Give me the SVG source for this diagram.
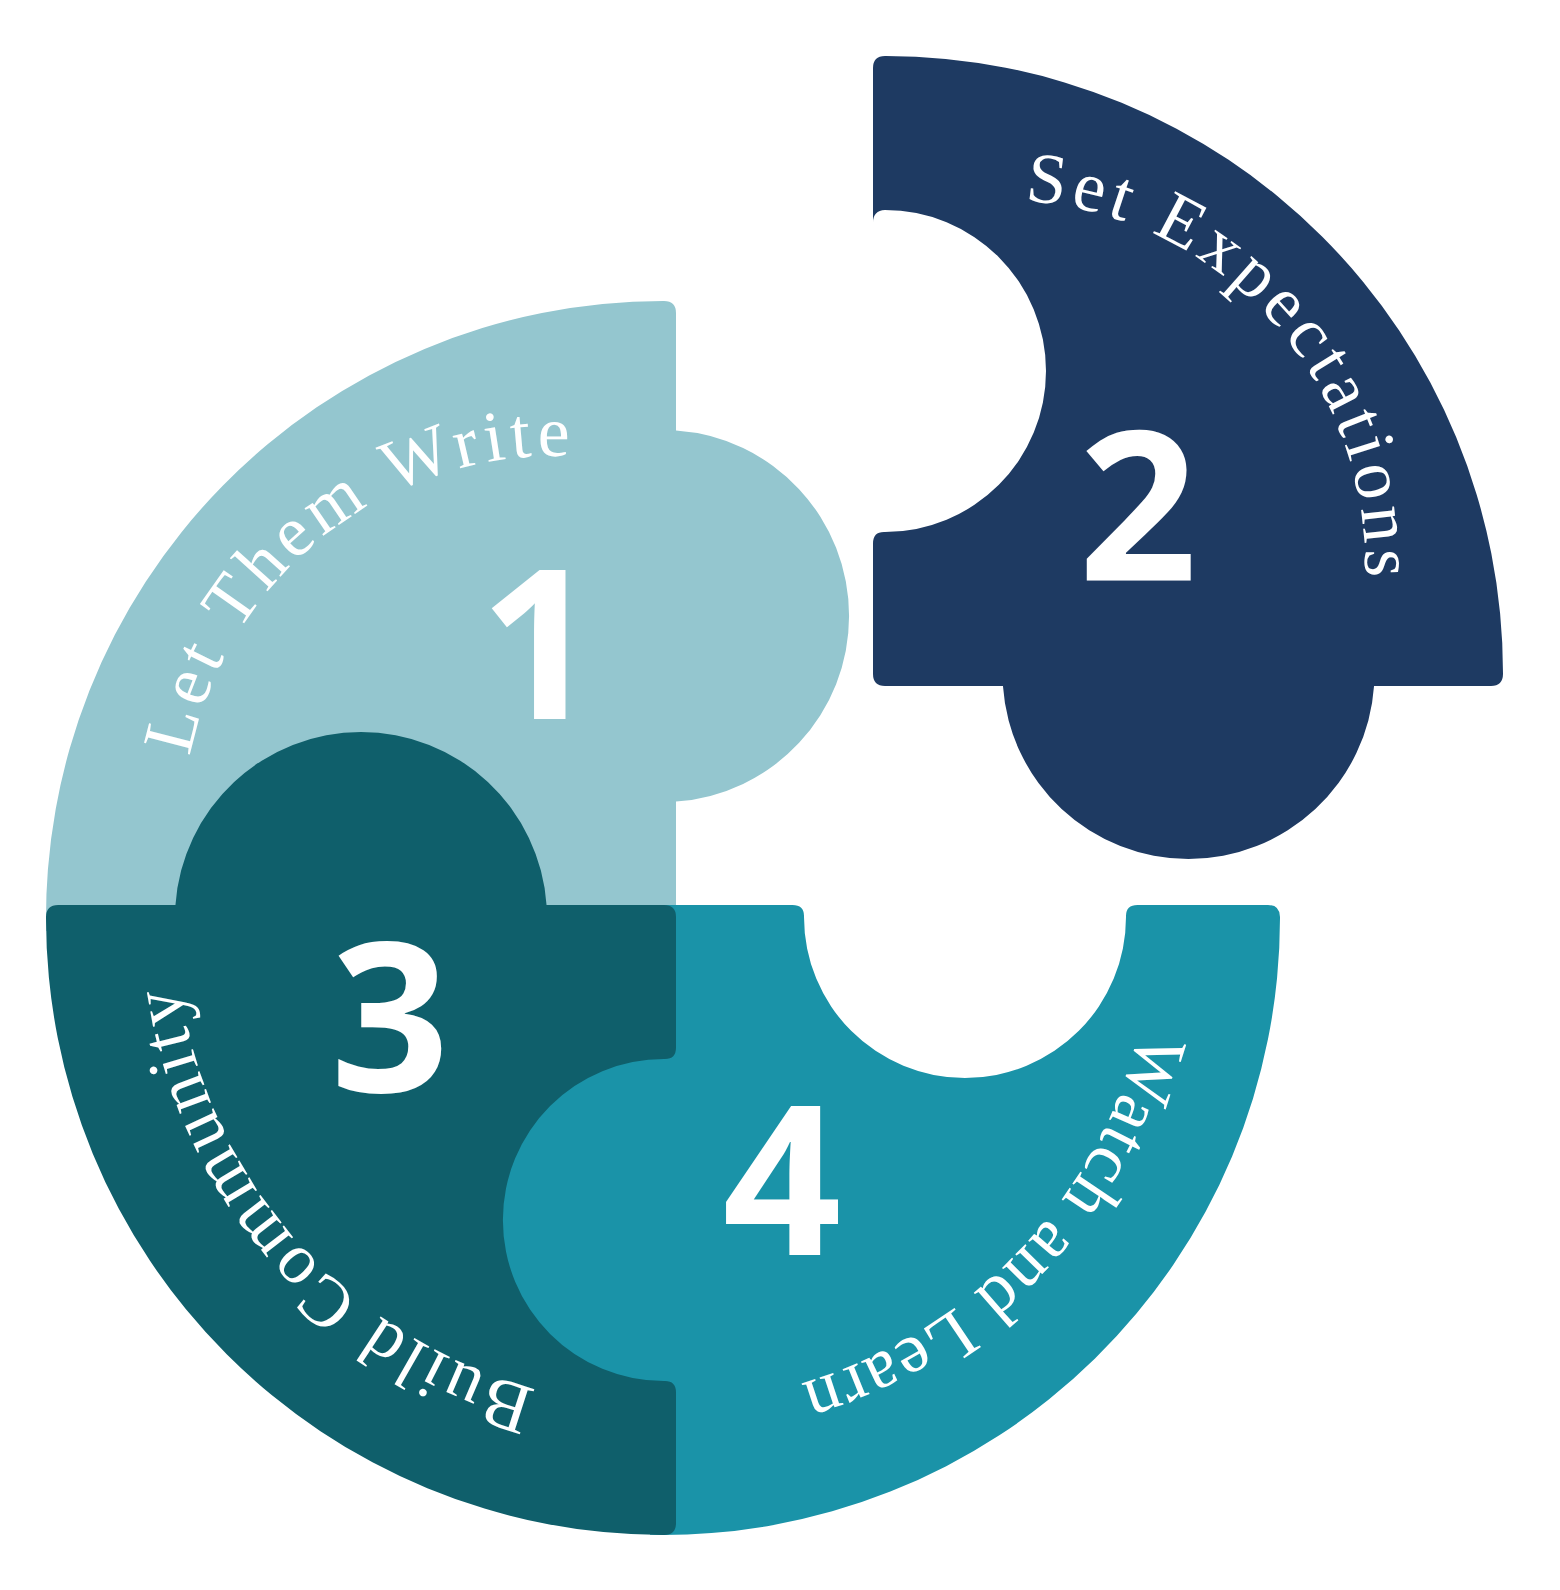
<svg xmlns="http://www.w3.org/2000/svg" width="1560" height="1590" viewBox="0 0 1560 1590">
<style>
.num{font-family:"Open Sans","Noto Sans",sans-serif;font-weight:700;font-size:208px;fill:#fff;text-anchor:middle}
.lbl{font-family:"Liberation Serif",serif;font-size:72px;fill:#fff}
</style>
<defs>
<path id="arc1" d="M244.26,1032.53 A372,372 0 0 1 825.58,572.72"/>
<path id="arc2" d="M779.84,273.87 A365,365 0 0 1 1267.38,813.46"/>
<path id="arc3" d="M841.85,1372.05 A488,488 0 0 1 234.14,685.15"/>
<path id="arc4" d="M1104.83,694.55 A492,492 0 0 1 463.67,1360.81"/>
</defs>
<rect width="1560" height="1590" fill="#fff"/>
<g id="piece1">
<path fill="#94C6CF" d="M46.14,931 A617,617 0 0 1 664,301 Q676,301.14 676,313 L676,430.45 A186,186 0 0 1 676,801.55 L676,931 Z"/>
<text class="lbl"><textPath href="#arc1" startOffset="50%" text-anchor="middle" textLength="527" lengthAdjust="spacing">Let Them Write</textPath></text>
<text class="num" x="539" y="719">1</text>
</g>
<g id="piece4">
<path fill="#1A93A8" d="M650,905 L792.5,905 Q804.53,905 804,917 A161,161 0 1 0 1126,917 Q1125.47,905 1137.5,905 L1268,905 Q1279.86,905 1280,917 A617,617 0 0 1 650,1534.86 L650,1405.55 A186,186 0 0 1 650,1034.45 Z"/>
<text class="lbl"><textPath href="#arc4" startOffset="50%" text-anchor="middle" textLength="513" lengthAdjust="spacing">Watch and Learn</textPath></text>
<text class="num" x="782" y="1255">4</text>
</g>
<g id="piece3">
<path fill="#0F5F6B" d="M46,917 Q46.14,905 58.14,905 L175.45,905 A186,186 0 0 1 546.55,905 L664,905 Q676,905 676,917 L676,1047.5 Q676,1059.5 664,1059 A161,161 0 1 0 664,1381 Q676,1380.5 676,1392.5 L676,1522.9 Q676,1534.86 664,1535 A617,617 0 0 1 46,917 Z"/>
<text class="lbl"><textPath href="#arc3" startOffset="50%" text-anchor="middle" textLength="570" lengthAdjust="spacing">Build Community</textPath></text>
<text class="num" x="390" y="1092">3</text>
</g>
<g id="piece2">
<path fill="#1E3A62" d="M873,68 Q873,56.14 885,56 A617,617 0 0 1 1503,674 Q1502.86,686 1491,686 L1374.05,686 A186,186 0 0 1 1002.95,686 L885,686 Q873,686 873,674 L873,543.47 Q873,531.47 885,532 A161,161 0 1 0 885,210 Q873,210.53 873,222.5 Z"/>
<text class="lbl"><textPath href="#arc2" startOffset="50%" text-anchor="middle" textLength="561" lengthAdjust="spacing">Set Expectations</textPath></text>
<text class="num" x="1138" y="581">2</text>
</g>
<g id="connectors"/>
</svg>
